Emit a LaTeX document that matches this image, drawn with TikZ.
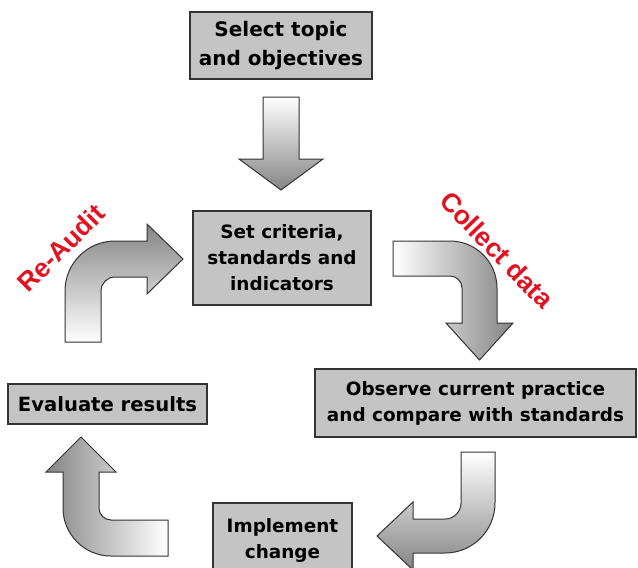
\documentclass[tikz,border=0pt]{standalone}
\usepackage{fontspec}
\setmainfont{DejaVu Sans}
\newfontfamily\redfont{Liberation Sans}
\definecolor{boxgray}{RGB}{196,196,196}
\definecolor{auditred}{RGB}{226,18,32}
\tikzset{
  stage/.style={draw=black!80,line width=1.4pt,fill=boxgray,rectangle,align=center,inner sep=0pt,
    font=\bfseries\fontsize{18.4}{26}\selectfont},
  blockarrow/.style={draw=black!80,line width=1pt},
  cyclelabel/.style={text=auditred,inner sep=0pt,font=\redfont\bfseries\fontsize{26.5}{30}\selectfont}
}
\begin{document}
\begin{tikzpicture}[x=1pt,y=-1pt]
        \clip (0,0) rectangle (638,568);
        %% Boxes
        \node[stage,minimum width=182,minimum height=67,font=\bfseries\fontsize{20}{29}\selectfont] (topic) at (281,45.5) {Select topic\\and objectives};
        \node[stage,minimum width=178,minimum height=94] (criteria) at (282,258) {Set criteria,\\standards and\\indicators};
        \node[stage,minimum width=321,minimum height=68] (observe) at (475.5,403) {Observe current practice\\and compare with standards};
        \node[stage,minimum width=139,minimum height=74] (implement) at (282.5,540) {Implement\\change};
        \node[stage,minimum width=199,minimum height=40,font=\bfseries\fontsize{19.6}{26}\selectfont] (evaluate) at (107.5,404) {Evaluate results};
        %% Arrows
        \draw[blockarrow,top color=white,bottom color=black!48] (263,97) -- (299,97) -- (299,159) -- (323,159) -- (281,190) -- (239,159) -- (263,159) -- cycle;
        \draw[blockarrow,left color=white,right color=black!48] (393,241) -- (450,241) arc[start angle=270,end angle=360,radius=47]
            -- (497,323) -- (513,323) -- (479.5,360) -- (446,323) -- (462,323) -- (462,288) arc[start angle=0,end angle=-90,radius=12] -- (393,276) -- cycle;
        \draw[blockarrow,top color=white,bottom color=black!48] (461,452) -- (495,452) -- (495,503) arc[start angle=0,end angle=90,radius=50]
            -- (413,553) -- (413,570) -- (377,536) -- (413,502) -- (413,519) -- (445,519) arc[start angle=90,end angle=0,radius=16] -- cycle;
        \draw[blockarrow,left color=black!48,right color=white] (168,520) -- (111,520) arc[start angle=90,end angle=180,radius=12]
            -- (99,472) -- (116,472) -- (81,437) -- (46,472) -- (63,472) -- (63,508) arc[start angle=180,end angle=90,radius=48] -- (168,556) -- cycle;
        \draw[blockarrow,top color=black!48,bottom color=white] (65,342) -- (65,291) arc[start angle=180,end angle=270,radius=50]
            -- (147,241) -- (147,224) -- (183,259) -- (147,294) -- (147,277) -- (115,277) arc[start angle=270,end angle=180,radius=14] -- (101,342) -- cycle;
        %% Labels
        \node[cyclelabel,rotate=45] (reaudit) at (61,248) {Re-Audit};
        \node[cyclelabel,rotate=-46] (collect) at (497,250) {Collect data};
\end{tikzpicture}
\end{document}
